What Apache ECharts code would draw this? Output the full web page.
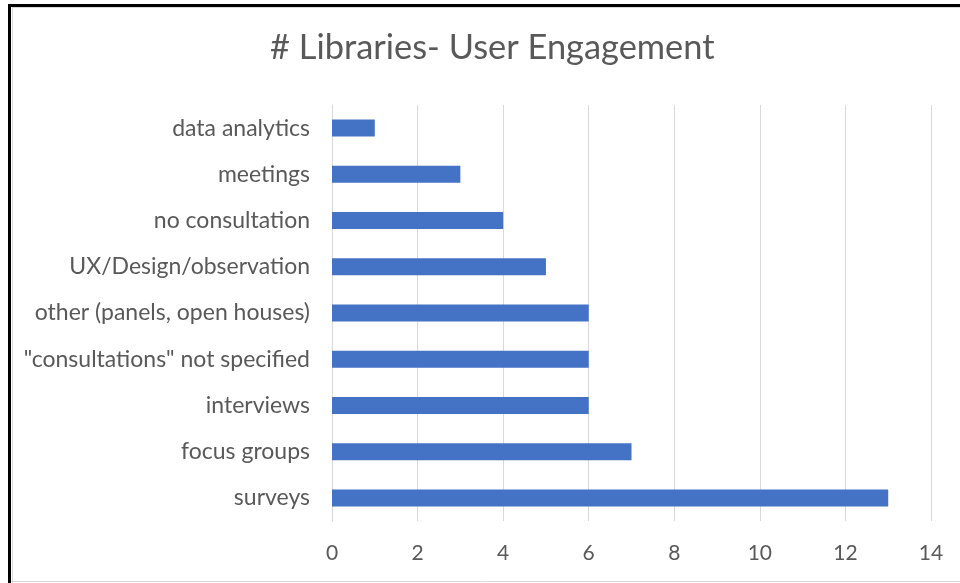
<!DOCTYPE html>
<html><head><meta charset="utf-8">
<script src="https://cdn.jsdelivr.net/npm/echarts@6/dist/echarts.min.js"></script>
<style>html,body{margin:0;padding:0;background:#fff;}#c{width:960px;height:583px;}</style>
</head><body><div id="c"></div>
<script>
const categories = ["surveys","focus groups","interviews","\"consultations\" not specified","other (panels, open houses)","UX/Design/observation","no consultation","meetings","data analytics"];
const values = [13,7,6,6,6,5,4,3,1];
const xTicks = [0,2,4,6,8,10,12,14];
const titleText = "# Libraries- User Engagement";

const chart = echarts.init(document.getElementById('c'), null, {renderer:'canvas'});
const font = "Lato, sans-serif";
chart.setOption({
  animation:false,
  backgroundColor:'#fff',
  title:{text:titleText,left:270,top:31,padding:0,textStyle:{fontFamily:font,fontSize:34.4,fontWeight:'normal',color:'#595959'}},
  grid:{left:332,right:29,top:105,bottom:62,containLabel:false},
  xAxis:{type:'value',min:xTicks[0],max:xTicks[xTicks.length-1],interval:2,
    axisLine:{show:false},axisTick:{show:false},
    splitLine:{lineStyle:{color:'#d9d9d9',width:1}},
    axisLabel:{fontFamily:font,fontSize:21,color:'#595959',margin:22}},
  yAxis:{type:'category',data:categories,
    axisLine:{show:true,lineStyle:{color:'#d9d9d9'}},axisTick:{show:false},
    axisLabel:{fontFamily:font,fontSize:23,color:'#595959',margin:22}},
  series:[{type:'bar',data:values,barWidth:17,itemStyle:{color:'#4472c4'}}],
  graphic:[
    {type:'rect',shape:{x:8,y:4,width:960,height:3},style:{fill:'#000'},silent:true},
    {type:'rect',shape:{x:8,y:4,width:3,height:583},style:{fill:'#000'},silent:true},
    {type:'line',shape:{x1:12,y1:7.5,x2:960,y2:7.5},style:{stroke:'#d9d9d9',lineWidth:1},silent:true},
    {type:'line',shape:{x1:12.5,y1:7,x2:12.5,y2:583},style:{stroke:'#d9d9d9',lineWidth:1},silent:true},
    {type:'line',shape:{x1:11,y1:581.5,x2:960,y2:581.5},style:{stroke:'#d9d9d9',lineWidth:1},silent:true}
  ]
});
</script></body></html>
